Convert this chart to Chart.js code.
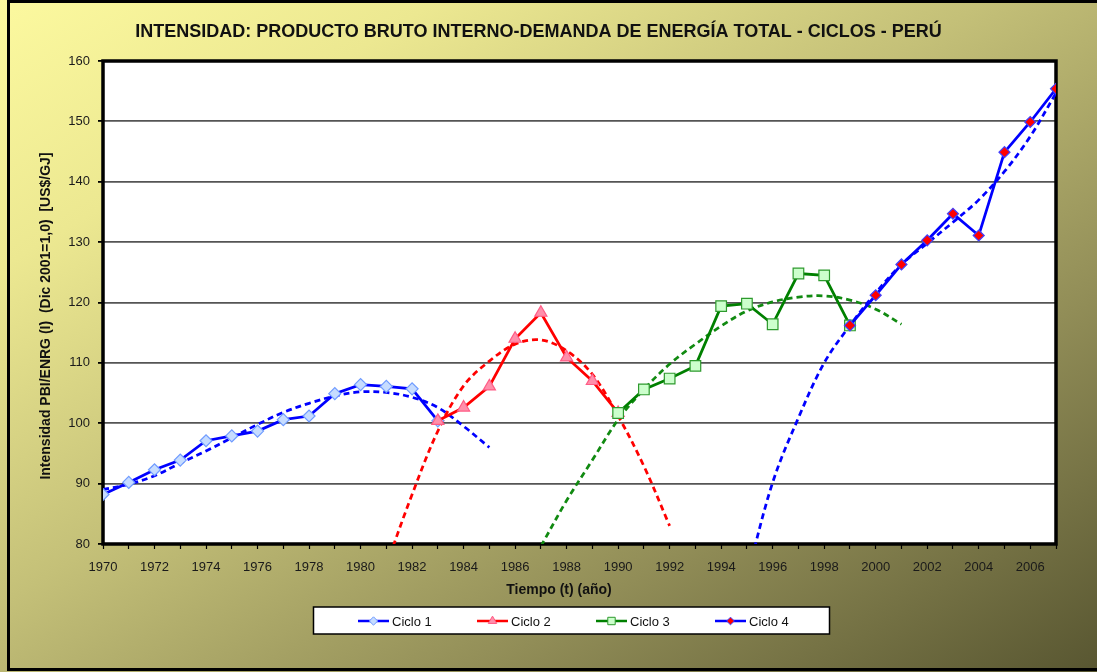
<!DOCTYPE html>
<html lang="es">
<head>
<meta charset="utf-8">
<title>Intensidad PBI/ENRG - Ciclos - Perú</title>
<script src="https://cdn.jsdelivr.net/npm/chart.js@4.4.1/dist/chart.umd.min.js"></script>
<style>
  html, body { margin: 0; padding: 0; }
  body {
    width: 1097px; height: 672px; overflow: hidden; position: relative;
    background: linear-gradient(to bottom right, #fcf99f 0%, #ece891 20%, #c4c078 45%, #918d57 72%, #585631 100%);
  }
  #marco { position: absolute; left: 7px; top: 0; width: 1100px; height: 665px; border: 3px solid #000; border-right: none; }
  #grafico { position: absolute; left: 0; top: 0; }
</style>
</head>
<body>
<div id="marco"></div>
<canvas id="grafico" width="1097" height="672"></canvas>
<script>
// Intensidad PBI / demanda de energía total del Perú, por ciclos
// Valores

const anios1 = [1970, 1971, 1972, 1973, 1974, 1975, 1976, 1977, 1978, 1979, 1980, 1981, 1982, 1983];
const ciclo1 = [88.2, 90.2, 92.3, 93.9, 97.1, 97.9, 98.7, 100.6, 101.2, 104.9, 106.4, 106.1, 105.7, 100.4];

const anios2 = [1983, 1984, 1985, 1986, 1987, 1988, 1989, 1990];
const ciclo2 = [100.4, 102.6, 106.1, 114.0, 118.3, 110.9, 107.0, 101.7];

const anios3 = [1990, 1991, 1992, 1993, 1994, 1995, 1996, 1997, 1998, 1999];
const ciclo3 = [101.7, 105.6, 107.4, 109.5, 119.4, 119.8, 116.4, 124.8, 124.5, 116.2];

const anios4 = [1999, 2000, 2001, 2002, 2003, 2004, 2005, 2006, 2007];
const ciclo4 = [116.2, 121.2, 126.3, 130.3, 134.7, 131.1, 144.9, 149.9, 155.4];

// líneas de tendencia (punteadas)
const aniosTend1 = [1970, 1971, 1972, 1973, 1974, 1975, 1976, 1977, 1978, 1979, 1980, 1981, 1982, 1983, 1984, 1985];
const tendencia1 = [89.0, 89.9, 91.3, 93.4, 95.4, 97.6, 99.8, 101.8, 103.3, 104.5, 105.2, 105.1, 104.3, 102.6, 99.5, 96.0];

const aniosTend2 = [1981, 1982, 1983, 1984, 1985, 1986, 1987, 1988, 1989, 1990, 1991, 1992];
const tendencia2 = [76.5, 88.2, 98.7, 106.2, 110.3, 113.1, 113.8, 112.0, 108.1, 101.2, 92.9, 83.0];

const aniosTend3 = [1987, 1988, 1989, 1990, 1991, 1992, 1993, 1994, 1995, 1996, 1997, 1998, 1999, 2000, 2001];
const tendencia3 = [79.6, 87.2, 93.9, 100.6, 105.6, 109.8, 113.1, 116.1, 118.6, 120.1, 120.9, 121.1, 120.4, 118.9, 116.4];

const aniosTend4 = [1995, 1996, 1997, 1998, 1999, 2000, 2001, 2002, 2003, 2004, 2005, 2006, 2007];
const tendencia4 = [74.5, 90.2, 100.9, 110.0, 116.2, 121.6, 126.3, 129.8, 133.3, 137.0, 141.7, 147.5, 154.7];

const nombres = ['Ciclo 1', 'Ciclo 2', 'Ciclo 3', 'Ciclo 4'];

const fuente = '"Liberation Sans", Arial, sans-serif';

function puntos(anios, valores) {
    return anios.map((a, i) => ({ x: a, y: valores[i] }));
}

function serie(nombre, anios, valores, color, estilo, relleno, borde, radio, orden) {
    return {
        label: nombre,
        data: puntos(anios, valores),
        borderColor: color,
        borderWidth: 2.75,
        pointStyle: estilo,
        pointRadius: radio,
        pointBackgroundColor: relleno,
        pointBorderColor: borde,
        pointBorderWidth: 1.2,
        tension: 0,
        order: orden
    };
}

function tendencia(anios, valores, color, orden) {
    return {
        label: 'tendencia',
        data: puntos(anios, valores),
        borderColor: color,
        borderWidth: 2.75,
        borderDash: [6, 4],
        pointRadius: 0,
        tension: 0.35,
        order: orden
    };
}

// fondo blanco y marco negro del área de trazado
const marcoArea = {
    id: 'marcoArea',
    beforeDraw(chart) {
        const { ctx, chartArea: a } = chart;
        ctx.save();
        ctx.fillStyle = '#ffffff';
        ctx.fillRect(a.left, a.top, a.right - a.left, a.bottom - a.top);
        ctx.restore();
    },
    beforeDatasetsDraw(chart) {
        const { ctx, chartArea: a } = chart;
        ctx.save();
        ctx.strokeStyle = '#000';
        ctx.lineWidth = 3.5;
        ctx.strokeRect(a.left, a.top, a.right - a.left, a.bottom - a.top);
        ctx.restore();
    }
};

// títulos de ejes y leyenda en recuadro
const textosYLeyenda = {
    id: 'textosYLeyenda',
    afterDraw(chart) {
        const ctx = chart.ctx;
        ctx.save();
        ctx.fillStyle = '#111';
        ctx.font = 'bold 14px ' + fuente;
        ctx.textAlign = 'center';
        ctx.textBaseline = 'middle';
        ctx.fillText('Tiempo (t) (año)', 559, 590);
        ctx.save();
        ctx.translate(46, 316);
        ctx.rotate(-Math.PI / 2);
        ctx.fillText('Intensidad PBI/ENRG (I)  (Dic 2001=1,0)  [US$/GJ]', 0, 0);
        ctx.restore();

        // leyenda
        ctx.fillStyle = '#fff';
        ctx.fillRect(313.5, 607, 516, 27);
        ctx.strokeStyle = '#000';
        ctx.lineWidth = 1.5;
        ctx.strokeRect(313.5, 607, 516, 27);

        const series = chart.data.datasets.filter(d => nombres.includes(d.label));
        series.sort((a, b) => nombres.indexOf(a.label) - nombres.indexOf(b.label));
        const yc = 621;
        series.forEach((d, i) => {
            const x0 = 358 + i * 119;
            ctx.strokeStyle = d.borderColor;
            ctx.lineWidth = 2.5;
            ctx.setLineDash([]);
            ctx.beginPath();
            ctx.moveTo(x0, yc);
            ctx.lineTo(x0 + 31, yc);
            ctx.stroke();
            ctx.fillStyle = d.pointBackgroundColor;
            ctx.strokeStyle = d.pointBorderColor;
            ctx.lineWidth = 1;
            Chart.helpers.drawPoint(ctx, {
                pointStyle: d.pointStyle,
                radius: d.pointRadius * 0.7,
                rotation: 0,
                borderWidth: 1
            }, x0 + 15.5, yc);
            ctx.fillStyle = '#111';
            ctx.font = '13px ' + fuente;
            ctx.textAlign = 'left';
            ctx.fillText(d.label, x0 + 34, yc + 1);
        });
        ctx.restore();
    }
};

const grafico = new Chart(document.getElementById('grafico'), {
    type: 'line',
    data: {
        datasets: [
            serie(nombres[0], anios1, ciclo1, '#0000ff', 'rectRot', '#c6dcff', '#6f9bff', 6, 4),
            serie(nombres[1], anios2, ciclo2, '#ff0000', 'triangle', '#ff8fab', '#ff5c85', 7, 3),
            serie(nombres[2], anios3, ciclo3, '#008000', 'rect', '#ccffcc', '#2e9a2e', 7.5, 2),
            serie(nombres[3], anios4, ciclo4, '#0000ff', 'rectRot', '#ff0000', '#4040ff', 5.5, 1),
            tendencia(aniosTend1, tendencia1, '#0000ff', 8),
            tendencia(aniosTend2, tendencia2, '#ff0000', 7),
            tendencia(aniosTend3, tendencia3, '#118a11', 6),
            tendencia(aniosTend4, tendencia4, '#0000ff', 5)
        ]
    },
    options: {
        responsive: false,
        animation: false,
        devicePixelRatio: 1,
        layout: { padding: { left: 21, right: 41, top: 0, bottom: 68 } },
        plugins: {
            legend: { display: false },
            tooltip: { enabled: false },
            title: {
                display: true,
                text: 'INTENSIDAD: PRODUCTO BRUTO INTERNO-DEMANDA DE ENERGÍA TOTAL - CICLOS - PERÚ',
                color: '#111',
                font: { family: fuente, size: 18, weight: 'bold' },
                padding: { top: 21, bottom: 18.4 }
            }
        },
        scales: {
            x: {
                type: 'linear',
                min: 1970,
                max: 2007,
                grid: { drawOnChartArea: false, tickLength: 5, tickColor: '#000', tickWidth: 1.2 },
                border: { display: false },
                ticks: {
                    stepSize: 1,
                    autoSkip: false,
                    maxRotation: 0,
                    padding: 11,
                    color: '#1a1a1a',
                    font: { family: fuente, size: 13 },
                    callback: v => (v % 2 === 0 ? String(v) : '')
                },
                afterFit: s => { s.height = 60; }
            },
            y: {
                min: 80,
                max: 160,
                grid: { color: '#555', lineWidth: 1.8, tickLength: 5, tickColor: '#000' },
                border: { display: false },
                ticks: {
                    stepSize: 10,
                    padding: 8,
                    color: '#1a1a1a',
                    font: { family: fuente, size: 13 }
                },
                afterFit: s => { s.width = 82; }
            }
        }
    },
    plugins: [marcoArea, textosYLeyenda]
});
</script>
</body>
</html>
